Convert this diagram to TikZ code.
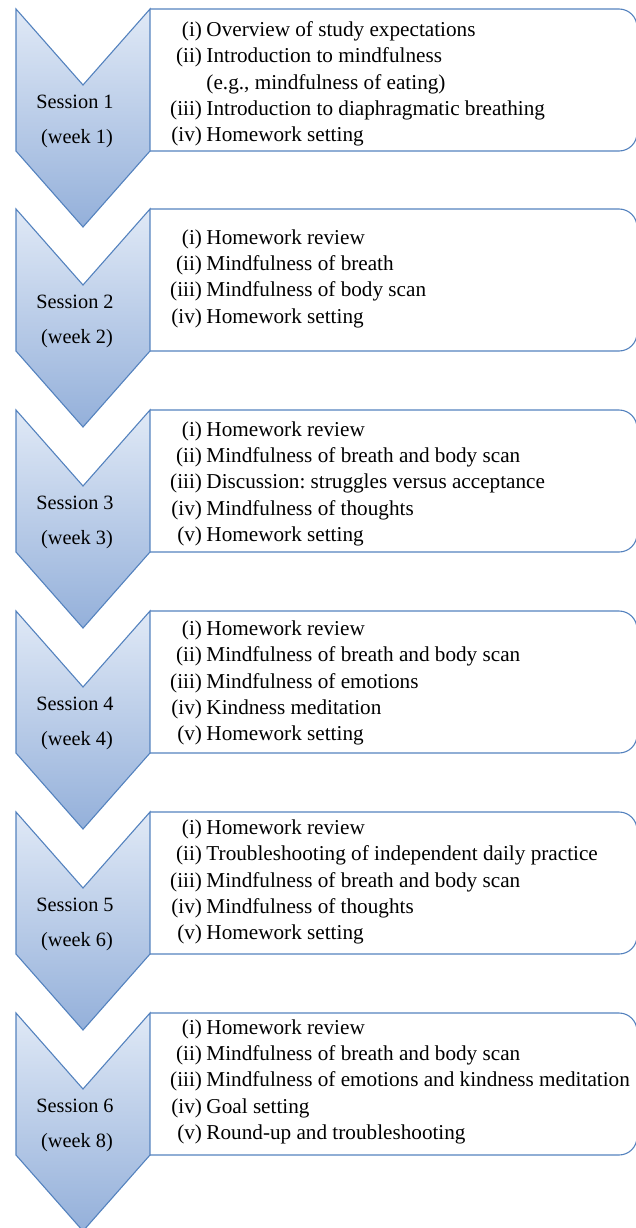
\documentclass[tikz,border=0pt]{standalone}
\usepackage{fontspec}
\setmainfont{Liberation Serif}
\frenchspacing
\definecolor{bordc}{RGB}{84,130,190}
\definecolor{topc}{RGB}{224,233,246}
\definecolor{botc}{RGB}{148,176,218}
\tikzset{
  chev/.style={draw=bordc, line width=1.1pt, top color=topc, bottom color=botc, line join=miter},
  listbox/.style={draw=bordc, line width=1.1pt, rounded corners=18pt},
  sesslab/.style={align=center, inner sep=0pt, font=\fontsize{20.3}{35}\selectfont},
  itemlist/.style={anchor=west, inner sep=0pt, font=\fontsize{21.2}{26.3}\selectfont},
}
% #1 index, #2 top y, #3 label, #4 text offset, #5 rows
\newcommand\sessionblock[5]{%
  \draw[listbox] (150,#2) -- (637,#2) -- (637,#2+142) -- (150,#2+142);
  \draw[chev] (16,#2) -- (83,#2+76) -- (150,#2) -- (150,#2+142) -- (83,#2+218) -- (16,#2+142) -- cycle;
  \node[sesslab] (s#1) at (75,#2+112.7) {#3};
  \node[itemlist] (t#1) at (170,#2+#4) {\begin{tabular}{@{}r@{\hspace{4.5pt}}l@{}}#5\end{tabular}};
}
\begin{document}
\begin{tikzpicture}[x=1pt,y=-1pt]
\useasboundingbox (0,0) rectangle (635,1228);
\sessionblock{1}{9}{Session 1\\\hspace*{4pt}(week 1)}{75}{%
(i) & Overview of study expectations\\
(ii) & Introduction to mindfulness\\
 & (e.g., mindfulness of eating)\\
(iii) & Introduction to diaphragmatic breathing\\
(iv) & Homework setting}
\sessionblock{2}{209}{Session 2\\\hspace*{4pt}(week 2)}{69.5}{%
(i) & Homework review\\
(ii) & Mindfulness of breath\\
(iii) & Mindfulness of body scan\\
(iv) & Homework setting}
\sessionblock{3}{410}{Session 3\\\hspace*{4pt}(week 3)}{73.5}{%
(i) & Homework review\\
(ii) & Mindfulness of breath and body scan\\
(iii) & Discussion: struggles versus acceptance\\
(iv) & Mindfulness of thoughts\\
(v) & Homework setting}
\sessionblock{4}{611}{Session 4\\\hspace*{4pt}(week 4)}{72}{%
(i) & Homework review\\
(ii) & Mindfulness of breath and body scan\\
(iii) & Mindfulness of emotions\\
(iv) & Kindness meditation\\
(v) & Homework setting}
\sessionblock{5}{812}{Session 5\\\hspace*{4pt}(week 6)}{70}{%
(i) & Homework review\\
(ii) & Troubleshooting of independent daily practice\\
(iii) & Mindfulness of breath and body scan\\
(iv) & Mindfulness of thoughts\\
(v) & Homework setting}
\sessionblock{6}{1013}{Session 6\\\hspace*{4pt}(week 8)}{68.5}{%
(i) & Homework review\\
(ii) & Mindfulness of breath and body scan\\
(iii) & Mindfulness of emotions and kindness meditation\\
(iv) & Goal setting\\
(v) & Round-up and troubleshooting}
\end{tikzpicture}
\end{document}
